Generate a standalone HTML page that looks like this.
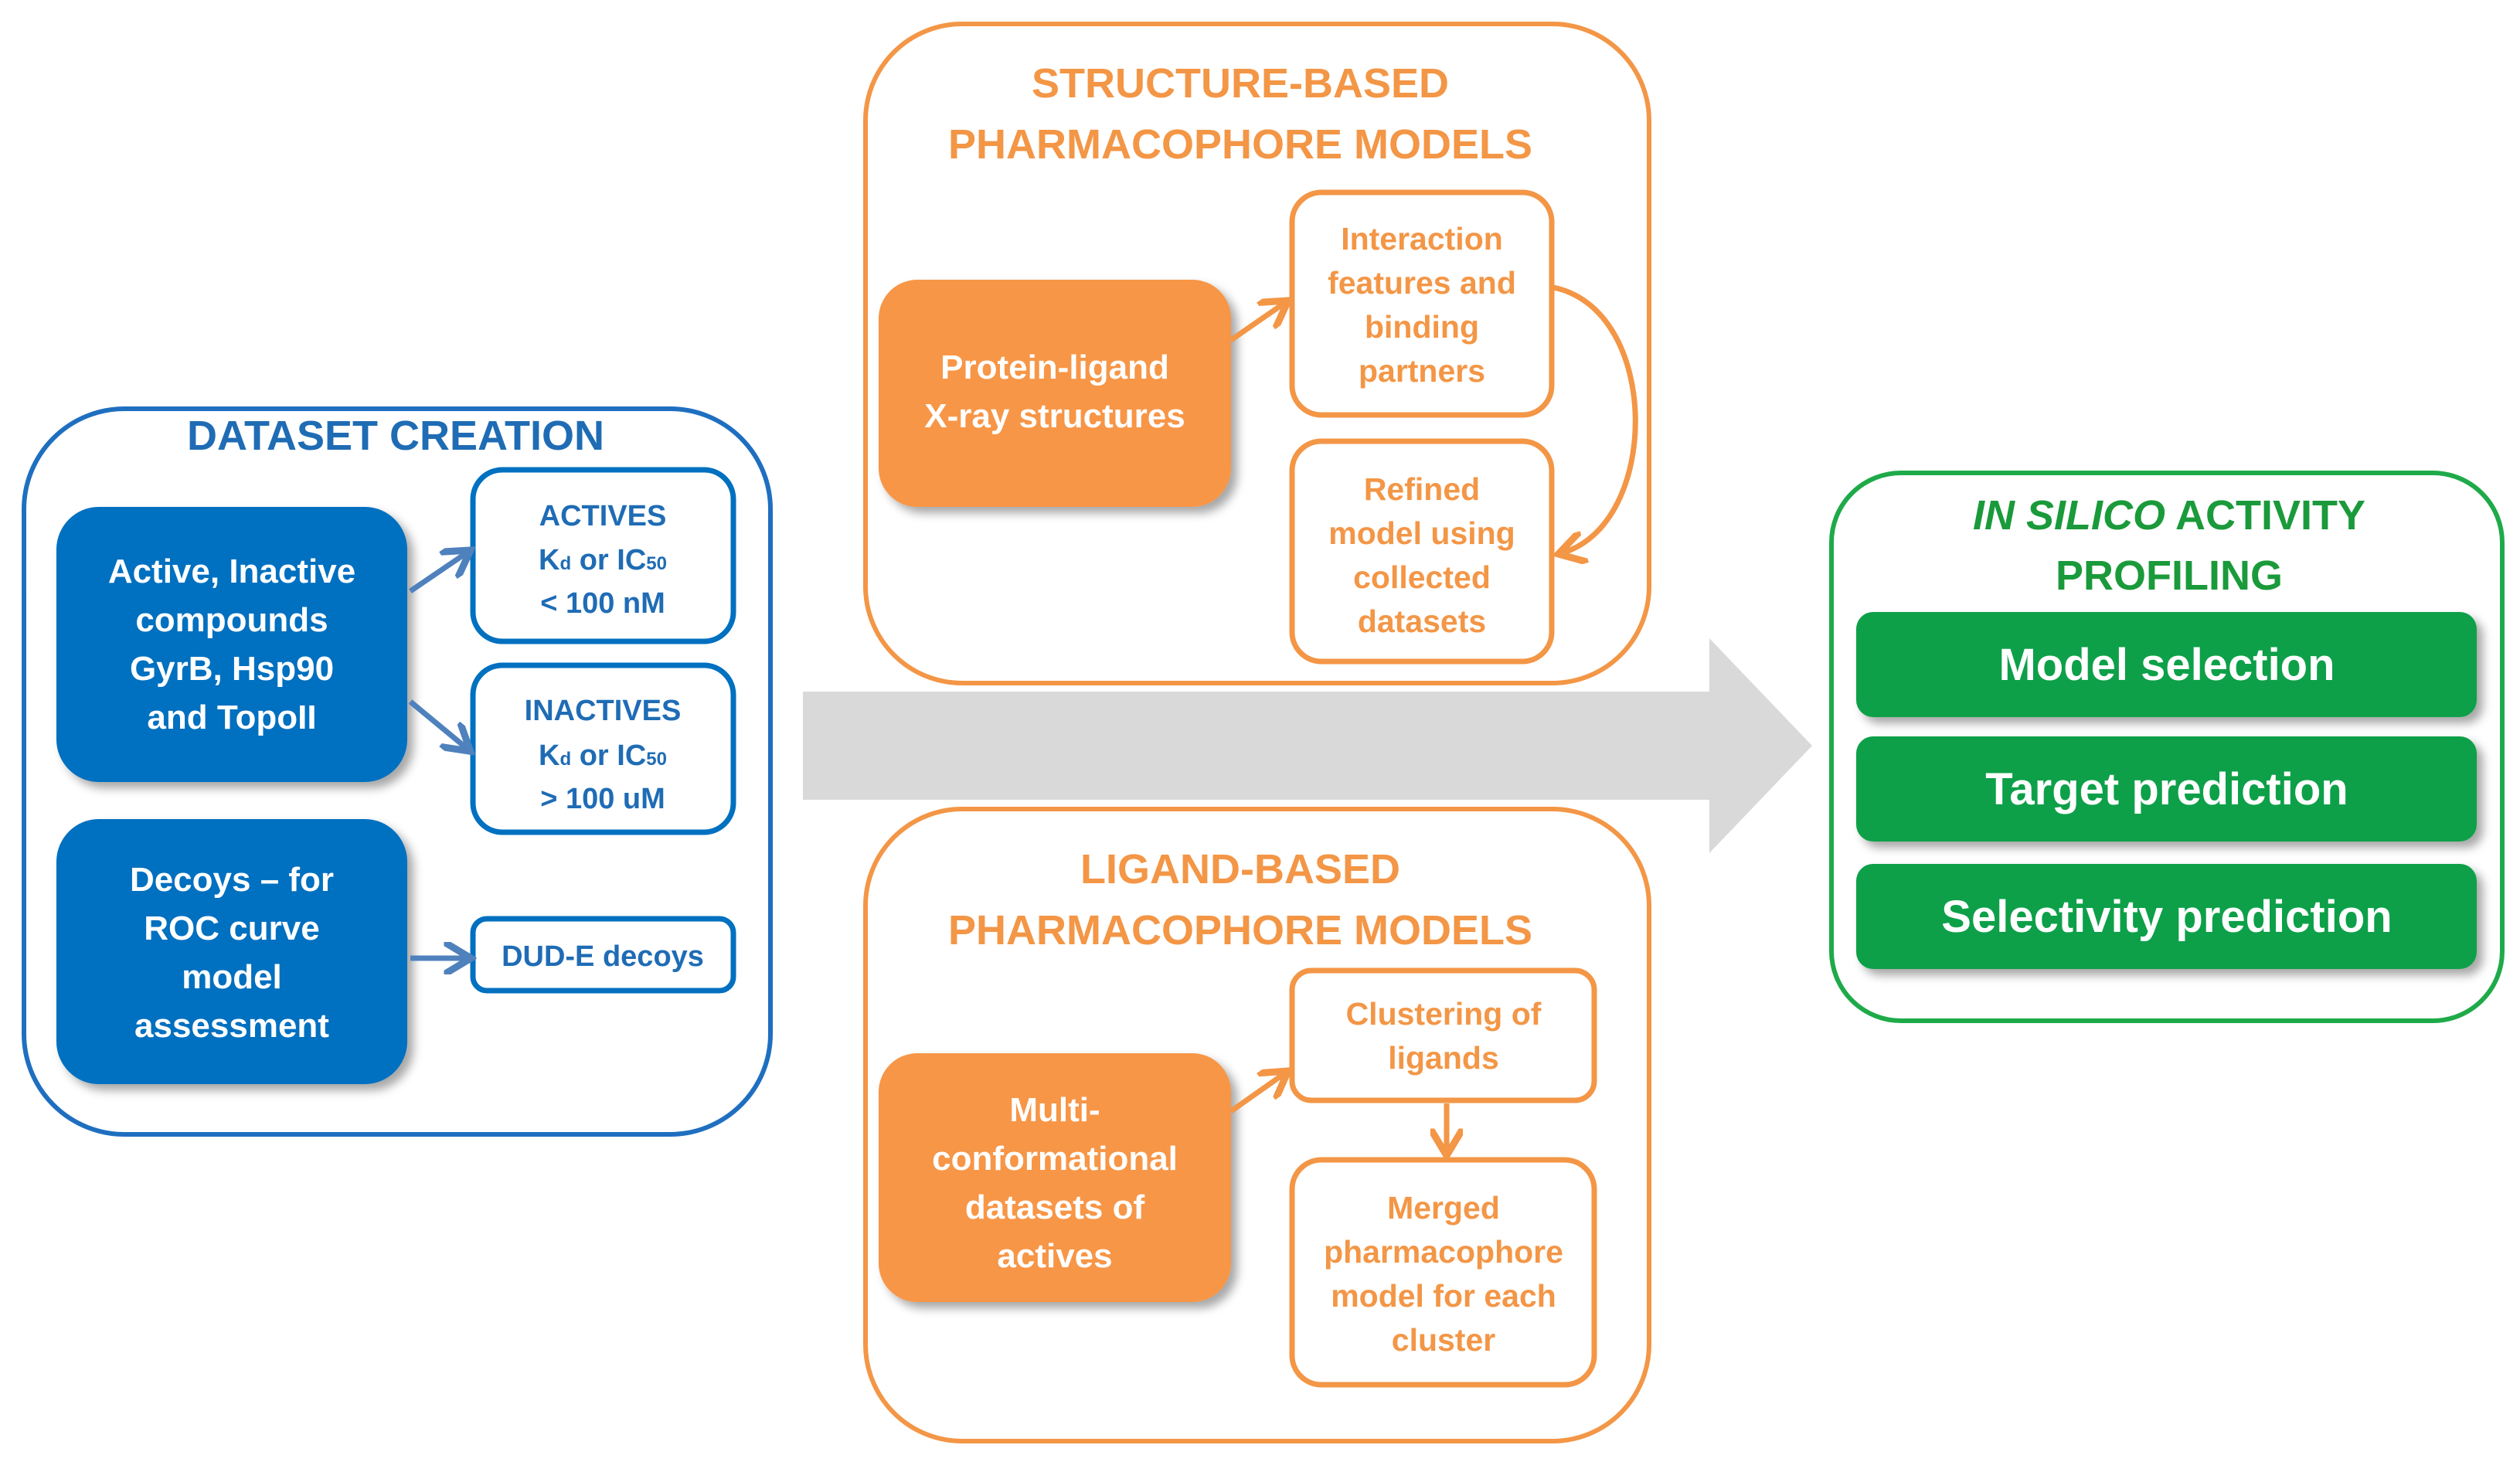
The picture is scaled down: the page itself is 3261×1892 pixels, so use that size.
<!DOCTYPE html>
<html><head><meta charset="utf-8"><style>
html,body{margin:0;padding:0;background:#fff}
svg{display:block}
text{font-family:"Liberation Sans",sans-serif;font-weight:bold;text-anchor:middle}
</style></head><body>
<svg width="3261" height="1892" viewBox="0 0 3261 1892" xmlns="http://www.w3.org/2000/svg">
<defs>
<filter id="sh" x="-10%" y="-10%" width="130%" height="130%"><feDropShadow dx="8" dy="8" stdDeviation="6" flood-color="#000" flood-opacity="0.35"/></filter>
<marker id="ab" markerWidth="6" markerHeight="6" refX="4.5" refY="3" orient="auto" markerUnits="strokeWidth"><path d="M0,0 L5,3 L0,6" fill="none" stroke="#4F81BD" stroke-width="1.3"/></marker>
<marker id="ao" markerWidth="6" markerHeight="6" refX="4.5" refY="3" orient="auto" markerUnits="strokeWidth"><path d="M0,0 L5,3 L0,6" fill="none" stroke="#F39646" stroke-width="1.3"/></marker>
</defs>

<polygon points="1039,895 2212,895 2212,826 2345,965 2212,1104 2212,1035 1039,1035" fill="#D9D9D9"/>

<rect x="31" y="529" width="966" height="939" rx="130" fill="#fff" stroke="#1F6FC0" stroke-width="6"/>
<text x="512" y="582" font-size="54" fill="#1F6CB5">DATASET CREATION</text>
<rect x="73" y="656" width="454" height="356" rx="55" fill="#0070C0" filter="url(#sh)"/>
<g font-size="44" fill="#fff">
<text x="300" y="754">Active, Inactive</text>
<text x="300" y="817">compounds</text>
<text x="300" y="880">GyrB, Hsp90</text>
<text x="300" y="943">and TopoII</text>
</g>
<rect x="73" y="1060" width="454" height="343" rx="55" fill="#0070C0" filter="url(#sh)"/>
<g font-size="44" fill="#fff">
<text x="300" y="1153">Decoys – for</text>
<text x="300" y="1216">ROC curve</text>
<text x="300" y="1279">model</text>
<text x="300" y="1342">assessment</text>
</g>
<rect x="612" y="608" width="337" height="222" rx="38" fill="#fff" stroke="#0070C0" stroke-width="7"/>
<g font-size="38" fill="#1F6CB5">
<text x="780" y="680">ACTIVES</text>
<text x="780" y="737">K<tspan font-size="24">d</tspan> or IC<tspan font-size="24">50</tspan></text>
<text x="780" y="793">&lt; 100 nM</text>
</g>
<rect x="612" y="861" width="337" height="216" rx="38" fill="#fff" stroke="#0070C0" stroke-width="7"/>
<g font-size="38" fill="#1F6CB5">
<text x="780" y="932">INACTIVES</text>
<text x="780" y="990">K<tspan font-size="24">d</tspan> or IC<tspan font-size="24">50</tspan></text>
<text x="780" y="1046">&gt; 100 uM</text>
</g>
<rect x="612" y="1189" width="337" height="93" rx="18" fill="#fff" stroke="#0070C0" stroke-width="7"/>
<text x="780" y="1250" font-size="38" fill="#1F6CB5">DUD-E decoys</text>
<g stroke="#4F81BD" stroke-width="7" fill="none">
<line x1="531" y1="765" x2="606" y2="714" marker-end="url(#ab)"/>
<line x1="531" y1="908" x2="606" y2="970" marker-end="url(#ab)"/>
<line x1="531" y1="1240" x2="606" y2="1240" marker-end="url(#ab)"/>
</g>

<rect x="1120" y="31" width="1014" height="853" rx="125" fill="#fff" stroke="#F39646" stroke-width="6"/>
<g font-size="54" fill="#F39646">
<text x="1605" y="126">STRUCTURE-BASED</text>
<text x="1605" y="205">PHARMACOPHORE MODELS</text>
</g>
<rect x="1137" y="362" width="456" height="294" rx="50" fill="#F79646" filter="url(#sh)"/>
<g font-size="44" fill="#fff">
<text x="1365" y="490">Protein-ligand</text>
<text x="1365" y="553">X-ray structures</text>
</g>
<rect x="1672" y="249" width="336" height="288" rx="38" fill="#fff" stroke="#F39646" stroke-width="7"/>
<g font-size="41" fill="#F39646">
<text x="1840" y="323">Interaction</text>
<text x="1840" y="380">features and</text>
<text x="1840" y="437">binding</text>
<text x="1840" y="494">partners</text>
</g>
<rect x="1672" y="571" width="336" height="285" rx="38" fill="#fff" stroke="#F39646" stroke-width="7"/>
<g font-size="41" fill="#F39646">
<text x="1840" y="647">Refined</text>
<text x="1840" y="704">model using</text>
<text x="1840" y="761">collected</text>
<text x="1840" y="818">datasets</text>
</g>
<g stroke="#F39646" stroke-width="7" fill="none">
<line x1="1593" y1="440" x2="1664" y2="391" marker-end="url(#ao)"/>
<path d="M2010,372 C2150,400 2150,680 2020,716" marker-end="url(#ao)"/>
</g>

<rect x="1120" y="1047" width="1014" height="818" rx="125" fill="#fff" stroke="#F39646" stroke-width="6"/>
<g font-size="54" fill="#F39646">
<text x="1605" y="1143">LIGAND-BASED</text>
<text x="1605" y="1222">PHARMACOPHORE MODELS</text>
</g>
<rect x="1137" y="1363" width="456" height="322" rx="50" fill="#F79646" filter="url(#sh)"/>
<g font-size="44" fill="#fff">
<text x="1365" y="1451">Multi-</text>
<text x="1365" y="1514">conformational</text>
<text x="1365" y="1577">datasets of</text>
<text x="1365" y="1640">actives</text>
</g>
<rect x="1672" y="1256" width="391" height="168" rx="25" fill="#fff" stroke="#F39646" stroke-width="7"/>
<g font-size="41" fill="#F39646">
<text x="1868" y="1326">Clustering of</text>
<text x="1868" y="1383">ligands</text>
</g>
<rect x="1672" y="1501" width="391" height="291" rx="38" fill="#fff" stroke="#F39646" stroke-width="7"/>
<g font-size="41" fill="#F39646">
<text x="1868" y="1577">Merged</text>
<text x="1868" y="1634">pharmacophore</text>
<text x="1868" y="1691">model for each</text>
<text x="1868" y="1748">cluster</text>
</g>
<g stroke="#F39646" stroke-width="7" fill="none">
<line x1="1593" y1="1438" x2="1664" y2="1388" marker-end="url(#ao)"/>
<line x1="1872" y1="1428" x2="1872" y2="1492" marker-end="url(#ao)"/>
</g>

<rect x="2370" y="612" width="868" height="709" rx="90" fill="#fff" stroke="#1FAA4A" stroke-width="6"/>
<g font-size="54" fill="#1A9A3A">
<text x="2807" y="685"><tspan font-style="italic">IN SILICO</tspan> ACTIVITY</text>
<text x="2807" y="763">PROFILING</text>
</g>
<g fill="#0EA04A" filter="url(#sh)">
<rect x="2402" y="792" width="803" height="136" rx="22"/>
<rect x="2402" y="953" width="803" height="136" rx="22"/>
<rect x="2402" y="1118" width="803" height="136" rx="22"/>
</g>
<g font-size="58" fill="#fff">
<text x="2804" y="880">Model selection</text>
<text x="2804" y="1041">Target prediction</text>
<text x="2804" y="1206">Selectivity prediction</text>
</g>
</svg>
</body></html>
